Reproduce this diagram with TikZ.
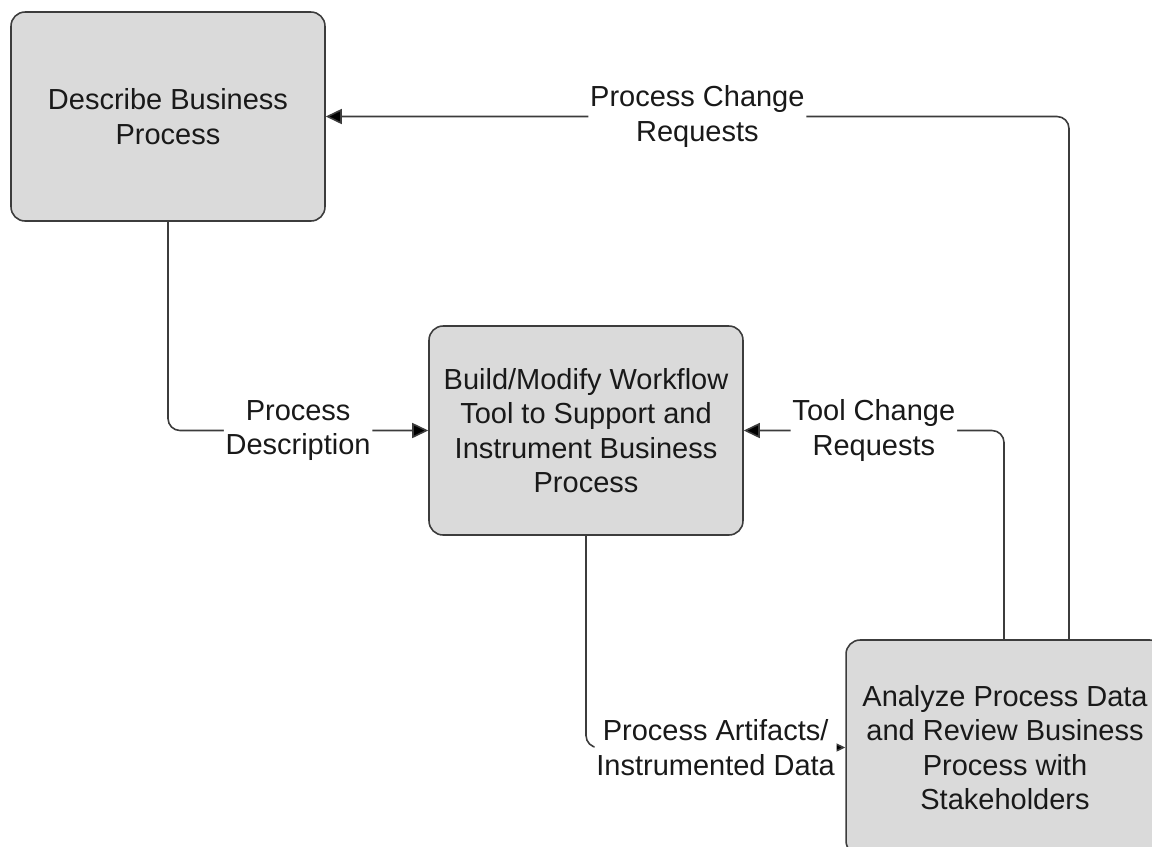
\documentclass[tikz,border=0pt]{standalone}
\usepackage{fontspec}
\setmainfont{Liberation Sans}
\usepackage{tikz}
\usetikzlibrary{arrows.meta}

\definecolor{boxgray}{RGB}{218,218,218}
\definecolor{edgegray}{RGB}{60,60,60}

\tikzset{
    activity/.style = {draw = edgegray, fill = boxgray, rounded corners = 0.28cm,
        line width = 0.9pt, minimum width = 6.28cm, minimum height = 4.18cm,
        align = center, text = black!90, font = \fontsize{16.5}{19.6}\selectfont},
    flow/.style = {-{Triangle[length = 0.32cm, width = 0.3cm, fill = black]},
        line width = 0.9pt, draw = edgegray, rounded corners = 0.24cm},
    flowlabel/.style = {fill = white, inner sep = 1pt, align = center,
        text = black!90, font = \fontsize{16.5}{19.6}\selectfont}
}

\begin{document}
\begin{tikzpicture} [x = 0.02cm, y = -0.02cm]
    \clip (0, 0) rectangle (1152, 846);

    % the three activities
    \node[activity] (describe) at (168, 116.5) {Describe Business\\Process};
    \node[activity] (build) at (586, 430.5)
        {Build/Modify Workflow\\Tool to Support and\\Instrument Business\\Process};
    \node[activity, minimum width = 6.36cm, minimum height = 4.3cm] (analyze)
        at (1005, 747.5)
        {Analyze Process Data\\and Review Business\\Process with\\Stakeholders};

    % flows between them
    \draw[flow] (describe.south) |- (build.west)
        node[flowlabel, pos = 0.75] {Process\\Description};
    \draw[flow] (build.south) |- (analyze.west)
        node[flowlabel, pos = 0.75] {Process Artifacts/\\Instrumented Data};
    \draw[flow] ([xshift = -0.02cm] analyze.north) |- (build.east)
        node[flowlabel, pos = 0.75] {Tool Change\\Requests};
    \draw[flow] ([xshift = 1.28cm] analyze.north) |- (describe.east)
        node[flowlabel, pos = 0.75] {Process Change\\Requests};
\end{tikzpicture}
\end{document}
